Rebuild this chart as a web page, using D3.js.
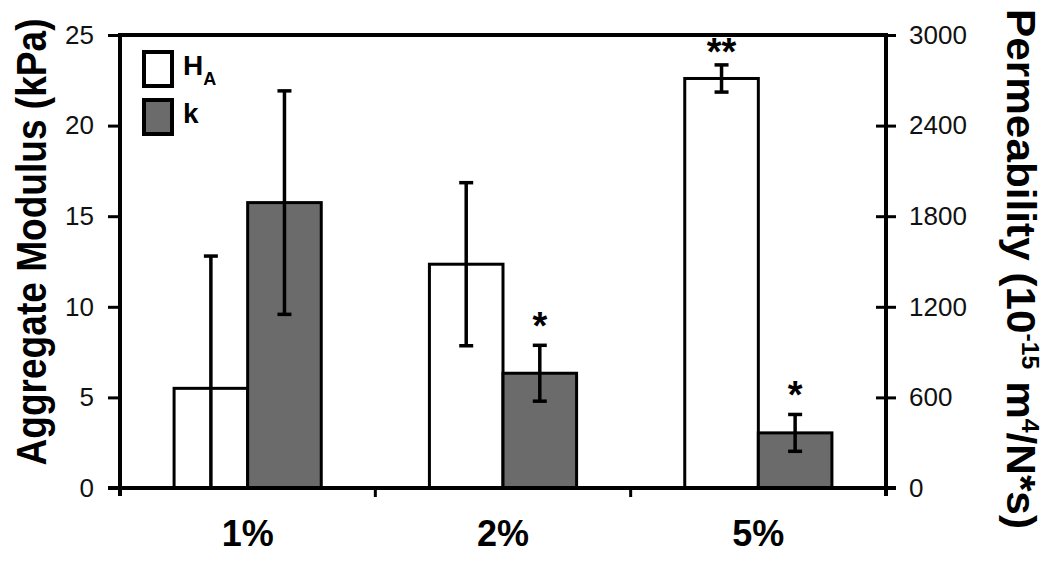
<!DOCTYPE html>
<html>
<head>
<meta charset="utf-8">
<script src="https://d3js.org/d3.v7.min.js"></script>
<style>
  body { margin: 0; background: #fff; }
  text { font-family: "Liberation Sans", Arial, sans-serif; }
</style>
</head>
<body>
<div id="chart"></div>
<script>
// data
var categories = ["1%", "2%", "5%"];
var haMean = [5.5, 12.35, 22.6];      // aggregate modulus, kPa
var haErr  = [7.3, 4.5, 0.75];
var kMean  = [1890, 760, 365];        // permeability, 10^-15 m4/N*s
var kErr   = [740, 185, 122];
var haSig  = ["", "", "**"];
var kSig   = ["", "*", "*"];
var leftTicks  = [0, 5, 10, 15, 20, 25];
var rightTicks = [0, 600, 1200, 1800, 2400, 3000];

var W = 1050, H = 573;
var svg = d3.select("#chart").append("svg").attr("width", W).attr("height", H);

var x0 = 120, x1 = 886, yTop = 35, yBot = 488;

var x = d3.scaleBand().domain(categories).range([x0, x1]).padding(0);
var yL = d3.scaleLinear().domain([0, 25]).range([yBot, yTop]);
var yR = d3.scaleLinear().domain([0, 3000]).range([yBot, yTop]);

// bars inside each category
var sub = d3.scaleBand().domain(["ha", "k"]).range([0, x.bandwidth()]).paddingOuter(0.735).paddingInner(0);

var rows = categories.map(function (c, i) {
  return [
    { cat: c, key: "ha", v: haMean[i], e: haErr[i], s: haSig[i], y: yL, fill: "#ffffff" },
    { cat: c, key: "k",  v: kMean[i],  e: kErr[i],  s: kSig[i],  y: yR, fill: "#6b6b6b" }
  ];
});
var bars = [].concat.apply([], rows);

// top frame line
svg.append("line").attr("x1", x0).attr("x2", x1).attr("y1", yTop).attr("y2", yTop)
  .attr("stroke", "#000").attr("stroke-width", 4);

svg.selectAll("rect.bar").data(bars).enter().append("rect")
  .attr("class", "bar")
  .attr("x", function (d) { return x(d.cat) + sub(d.key); })
  .attr("width", sub.bandwidth())
  .attr("y", function (d) { return d.y(d.v); })
  .attr("height", function (d) { return yBot - d.y(d.v); })
  .attr("fill", function (d) { return d.fill; })
  .attr("stroke", "#000").attr("stroke-width", 3);

// error bars
var eb = svg.selectAll("g.err").data(bars).enter().append("g").attr("class", "err");
function cx(d) { return x(d.cat) + sub(d.key) + sub.bandwidth() / 2; }
eb.append("line")
  .attr("x1", cx).attr("x2", cx)
  .attr("y1", function (d) { return d.y(d.v + d.e); })
  .attr("y2", function (d) { return d.y(Math.max(0, d.v - d.e)); })
  .attr("stroke", "#000").attr("stroke-width", 3.5);
eb.append("line")
  .attr("x1", function (d) { return cx(d) - 7; }).attr("x2", function (d) { return cx(d) + 7; })
  .attr("y1", function (d) { return d.y(d.v + d.e); }).attr("y2", function (d) { return d.y(d.v + d.e); })
  .attr("stroke", "#000").attr("stroke-width", 3.5);
eb.filter(function (d) { return d.v - d.e > 0; }).append("line")
  .attr("x1", function (d) { return cx(d) - 7; }).attr("x2", function (d) { return cx(d) + 7; })
  .attr("y1", function (d) { return d.y(d.v - d.e); }).attr("y2", function (d) { return d.y(d.v - d.e); })
  .attr("stroke", "#000").attr("stroke-width", 3.5);

// significance stars
svg.selectAll("text.sig").data(bars.filter(function (d) { return d.s; })).enter().append("text")
  .attr("class", "sig")
  .attr("x", cx)
  .attr("y", function (d) { return d.y(d.v + d.e) - (d.s.length > 1 ? 0 : 6); })
  .attr("text-anchor", "middle")
  .style("font-size", "38px").style("font-weight", "bold")
  .text(function (d) { return d.s; });

// left axis
var gl = svg.append("g").attr("transform", "translate(" + x0 + ",0)")
  .call(d3.axisLeft(yL).tickValues(leftTicks).tickSize(12).tickPadding(14));
gl.select(".domain").remove();
gl.selectAll(".tick line").attr("stroke-width", 3);
gl.selectAll(".tick text").style("font-size", "26px").attr("fill", "#111");
svg.append("line").attr("x1", x0).attr("x2", x0).attr("y1", yTop - 2).attr("y2", yBot + 8)
  .attr("stroke", "#000").attr("stroke-width", 4);

// right axis
var gr = svg.append("g").attr("transform", "translate(" + x1 + ",0)")
  .call(d3.axisRight(yR).tickValues(rightTicks).tickFormat(d3.format("d")).tickSize(10).tickPadding(13));
gr.select(".domain").remove();
gr.selectAll(".tick line").attr("x1", -10).attr("stroke-width", 3);
gr.selectAll(".tick text").style("font-size", "26px").attr("fill", "#111");
svg.append("line").attr("x1", x1).attr("x2", x1).attr("y1", yTop - 2).attr("y2", yBot + 8)
  .attr("stroke", "#000").attr("stroke-width", 4);

// bottom axis
svg.append("line").attr("x1", x0 - 12).attr("x2", x1 + 10).attr("y1", yBot).attr("y2", yBot)
  .attr("stroke", "#000").attr("stroke-width", 4);
svg.selectAll("line.ctick").data(categories.slice(1)).enter().append("line")
  .attr("class", "ctick")
  .attr("x1", function (d) { return x(d); }).attr("x2", function (d) { return x(d); })
  .attr("y1", yBot).attr("y2", yBot + 9)
  .attr("stroke", "#000").attr("stroke-width", 3);
svg.selectAll("text.cat").data(categories).enter().append("text")
  .attr("class", "cat")
  .attr("x", function (d) { return x(d) + x.bandwidth() / 2; })
  .attr("y", 546)
  .attr("text-anchor", "middle")
  .style("font-size", "36px").style("font-weight", "bold")
  .text(function (d) { return d; });

// axis titles (stretched vertically, like the original)
svg.append("text")
  .attr("transform", "translate(46,242) rotate(-90) scale(1.03,1.17)")
  .attr("text-anchor", "middle")
  .style("font-size", "36px").style("font-weight", "bold")
  .text("Aggregate Modulus (kPa)");

var rt = svg.append("text")
  .attr("transform", "translate(1007,269) rotate(90)")
  .attr("text-anchor", "middle")
  .attr("textLength", 520).attr("lengthAdjust", "spacingAndGlyphs")
  .style("font-size", "41px").style("font-weight", "bold");
rt.append("tspan").text("Permeability (10");
rt.append("tspan").attr("dy", -15).style("font-size", "24px").text("-15");
rt.append("tspan").attr("dy", 15).text(" m");
rt.append("tspan").attr("dy", -15).style("font-size", "24px").text("4");
rt.append("tspan").attr("dy", 15).text("/N*s)");

// legend
var legend = [
  { label: "H", subl: "A", fill: "#ffffff", y: 52 },
  { label: "k", subl: "", fill: "#6b6b6b", y: 100 }
];
var lg = svg.selectAll("g.leg").data(legend).enter().append("g").attr("class", "leg");
lg.append("rect")
  .attr("x", 144).attr("y", function (d) { return d.y; })
  .attr("width", 28).attr("height", 34)
  .attr("fill", function (d) { return d.fill; })
  .attr("stroke", "#000").attr("stroke-width", 4);
var lt = lg.append("text")
  .attr("x", 183).attr("y", function (d) { return d.y + 23; })
  .style("font-size", "28px").style("font-weight", "bold");
lt.append("tspan").text(function (d) { return d.label; });
lt.append("tspan").attr("dy", 10).style("font-size", "18px").text(function (d) { return d.subl; });
</script>
</body>
</html>
